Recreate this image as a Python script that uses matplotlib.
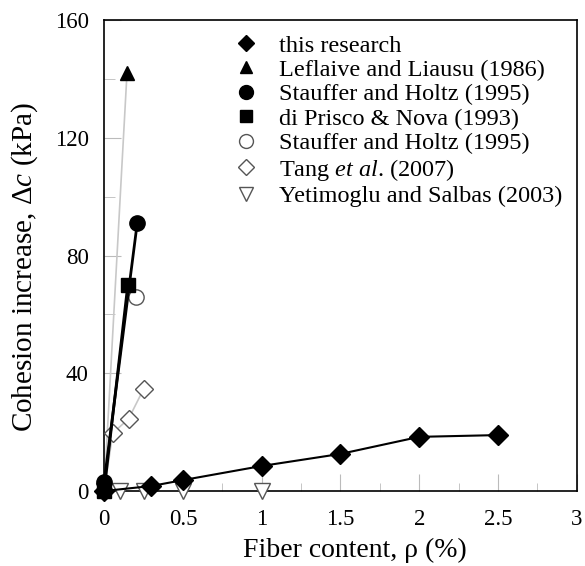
import matplotlib.pyplot as plt
from matplotlib.ticker import MultipleLocator

plt.rcParams['font.family'] = ['Liberation Serif', 'DejaVu Serif']
plt.rcParams['mathtext.fontset'] = 'custom'
plt.rcParams['mathtext.rm'] = 'Liberation Serif'
plt.rcParams['mathtext.it'] = 'Liberation Serif:italic'

# donnees
this_x = [0, 0.3, 0.5, 1.0, 1.5, 2.0, 2.5]
this_y = [0, 1.7, 3.7, 8.5, 12.6, 18.4, 19.0]
lef_x = [0, 0.145]
lef_y = [0, 142]
sta_x = [0, 0.21]
sta_y = [3, 91]
dip_x = [0, 0.15]
dip_y = [0, 70]
sta2_x = [0.2]
sta2_y = [66]
tang_x = [0, 0.055, 0.155, 0.25]
tang_y = [0, 19.7, 24.5, 34.6]
yet_x = [0, 0.1, 0.25, 0.5, 1.0]
yet_y = [0, 0, 0, 0, 0]

labels = ['this research', 'Leflaive and Liausu (1986)', 'Stauffer and Holtz (1995)',
          'di Prisco & Nova (1993)', 'Stauffer and Holtz (1995)',
          'Tang $\\it{et\\ al}$. (2007)', 'Yetimoglu and Salbas (2003)']

fig = plt.figure(figsize=(5.85, 5.66), dpi=100)
ax = fig.add_axes([0.178, 0.1325, 0.808, 0.832])

gris = '#555555'
ax.plot(lef_x, lef_y, '-', color='#c8c8c8', lw=1.2, zorder=2)
ax.plot(lef_x[1:], lef_y[1:], '^', color='k', ms=10, ls='none', zorder=4, clip_on=False)
ax.plot(tang_x, tang_y, '-', color='#c8c8c8', lw=1.2, zorder=2)
ax.plot(tang_x[1:], tang_y[1:], 'D', mfc='white', mec=gris, ms=9, ls='none', zorder=4)
ax.plot(sta_x, sta_y, '-o', color='k', lw=2, ms=11, zorder=5, clip_on=False)
ax.plot(dip_x, dip_y, '-s', color='k', lw=2, ms=10, zorder=5, clip_on=False)
ax.plot(sta2_x, sta2_y, 'o', mfc='white', mec=gris, ms=11, ls='none', zorder=4)
ax.plot(yet_x, yet_y, 'v', mfc='white', mec=gris, ms=11, ls='none', zorder=3, clip_on=False)
ax.plot(this_x, this_y, '-D', color='k', lw=1.5, ms=10, zorder=6, clip_on=False)

# legende (marqueurs seulement)
hs = [ax.plot([], [], 'D', color='k', ms=8)[0],
      ax.plot([], [], '^', color='k', ms=9)[0],
      ax.plot([], [], 'o', color='k', ms=10)[0],
      ax.plot([], [], 's', color='k', ms=9)[0],
      ax.plot([], [], 'o', mfc='white', mec=gris, ms=10)[0],
      ax.plot([], [], 'D', mfc='white', mec=gris, ms=8)[0],
      ax.plot([], [], 'v', mfc='white', mec=gris, ms=10)[0]]
ax.legend(hs, labels, loc='upper left', bbox_to_anchor=(0.255, 0.99), frameon=False,
          fontsize=17.5, handlelength=0.95, handletextpad=0.88, labelspacing=0.1,
          borderaxespad=0.0)

ax.set_xlim(0, 3)
ax.set_ylim(0, 160)
ax.xaxis.set_major_locator(MultipleLocator(0.5))
ax.xaxis.set_minor_locator(MultipleLocator(0.25))
ax.yaxis.set_major_locator(MultipleLocator(40))
ax.yaxis.set_minor_locator(MultipleLocator(20))
ax.xaxis.set_major_formatter(plt.FuncFormatter(lambda v, p: '%g' % v))
ax.tick_params(which='both', direction='in', color='#bbbbbb', labelsize=16.5)
ax.tick_params(axis='x', which='major', length=12, pad=13)
ax.tick_params(axis='x', which='minor', length=6)
ax.tick_params(axis='y', which='major', length=12, pad=11)
ax.tick_params(axis='y', which='minor', length=8)
for s in ax.spines.values():
    s.set_linewidth(1.2)

ax.set_xlabel('Fiber content, ρ (%)', fontsize=20)
ax.set_ylabel('Cohesion increase, Δ$\\it{c}$ (kPa)', fontsize=21)
ax.xaxis.set_label_coords(0.531, -0.099)
ax.yaxis.set_label_coords(-0.135, 0.476)

plt.savefig('out.png', dpi=100)
